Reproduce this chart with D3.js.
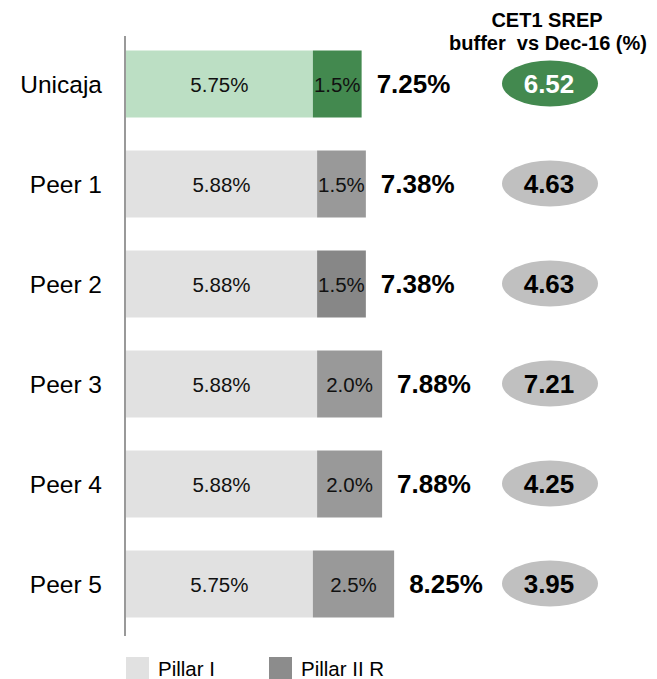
<!DOCTYPE html>
<html>
<head>
<meta charset="utf-8">
<script src="https://cdn.jsdelivr.net/npm/d3@7"></script>
<style>
  html, body { margin: 0; padding: 0; background: #fff; }
  svg { display: block; font-family: "Liberation Sans", Arial, sans-serif; }
</style>
</head>
<body>
<div id="chart"></div>
<script>
/* CET1 SREP requirement: Pillar I + Pillar II R, with buffer ellipses */

const CATS    = ["Unicaja", "Peer 1", "Peer 2", "Peer 3", "Peer 4", "Peer 5"];
const PILLAR1 = [5.75, 5.88, 5.88, 5.88, 5.88, 5.75];
const PILLAR2 = [1.5, 1.5, 1.5, 2.0, 2.0, 2.5];
const P1_LBL  = ["5.75%", "5.88%", "5.88%", "5.88%", "5.88%", "5.75%"];
const P2_LBL  = ["1.5%", "1.5%", "1.5%", "2.0%", "2.0%", "2.5%"];
const TOTAL   = ["7.25%", "7.38%", "7.38%", "7.88%", "7.88%", "8.25%"];
const BUFFER  = ["6.52", "4.63", "4.63", "7.21", "4.25", "3.95"];
const LEGEND  = ["Pillar I", "Pillar II R"];

const W = 657, H = 679;
const X0 = 126;

const svg = d3.select("#chart").append("svg")
  .attr("width", W).attr("height", H);

const x = d3.scaleLinear().domain([0, 8.25]).range([X0, X0 + 8.25 * 32.5]);
const y = d3.scaleBand().domain(CATS).range([34, 634])
  .paddingInner(0.33).paddingOuter(0.165);

const rows = CATS.map((c, i) => ({
  cat: c, p1: PILLAR1[i], p2: PILLAR2[i],
  l1: P1_LBL[i], l2: P2_LBL[i], tot: TOTAL[i], buf: BUFFER[i], i
}));

// colours: Unicaja in green, peers grey (Peer 2 slightly darker)
const c1 = d => d.i === 0 ? "#bcdfc4" : "#e1e1e1";
const c2 = d => d.i === 0 ? "#43894f" : (d.i === 2 ? "#878787" : "#999999");

// header
const head = svg.append("g").attr("font-weight", "bold").attr("font-size", 20)
  .attr("text-anchor", "middle").attr("fill", "#000");
head.append("text").attr("x", 547).attr("y", 27).text("CET1 SREP");
head.append("text").attr("x", 548).attr("y", 50).attr("xml:space", "preserve")
  .text("buffer  vs Dec-16 (%)");

const g = svg.selectAll("g.row").data(rows).join("g").attr("class", "row");
const cy = d => y(d.cat) + y.bandwidth() / 2;

g.append("rect")
  .attr("x", x(0)).attr("y", d => y(d.cat))
  .attr("width", d => x(d.p1) - x(0)).attr("height", y.bandwidth())
  .attr("fill", c1);
g.append("rect")
  .attr("x", d => x(d.p1)).attr("y", d => y(d.cat))
  .attr("width", d => x(d.p1 + d.p2) - x(d.p1)).attr("height", y.bandwidth())
  .attr("fill", c2);

g.append("text")
  .attr("x", d => (x(0) + x(d.p1)) / 2).attr("y", d => cy(d) + 8)
  .attr("text-anchor", "middle").attr("font-size", 20.5).attr("fill", "#111")
  .text(d => d.l1);
g.append("text")
  .attr("x", d => (x(d.p1) + x(d.p1 + d.p2)) / 2).attr("y", d => cy(d) + 8)
  .attr("text-anchor", "middle").attr("font-size", 20.5).attr("fill", "#111")
  .text(d => d.l2);

g.append("text")
  .attr("x", d => x(d.p1 + d.p2) + 15).attr("y", d => cy(d) + 9)
  .attr("font-size", 26).attr("font-weight", "bold").attr("fill", "#000")
  .text(d => d.tot);

g.append("text")
  .attr("x", 102).attr("y", d => cy(d) + 9)
  .attr("text-anchor", "end").attr("font-size", 24.5).attr("fill", "#000")
  .text(d => d.cat);

g.append("ellipse")
  .attr("cx", 550).attr("cy", d => cy(d) - 0.5)
  .attr("rx", 48).attr("ry", 23)
  .attr("fill", d => d.i === 0 ? "#43894f" : "#c0c0c0");
g.append("text")
  .attr("x", 549).attr("y", d => cy(d) + 9)
  .attr("text-anchor", "middle").attr("font-size", 26).attr("font-weight", "bold")
  .attr("fill", d => d.i === 0 ? "#fff" : "#000")
  .text(d => d.buf);

// vertical axis line
svg.append("line")
  .attr("x1", 125).attr("x2", 125).attr("y1", 36).attr("y2", 636)
  .attr("stroke", "#999").attr("stroke-width", 2);

// legend
const LEG_COL = ["#e1e1e1", "#8c8c8c"];
const LEG_X = [126, 269];
const lg = svg.selectAll("g.leg").data(LEGEND).join("g").attr("class", "leg")
  .attr("transform", (d, i) => `translate(${LEG_X[i]},657)`);
lg.append("rect").attr("width", 23).attr("height", 22).attr("fill", (d, i) => LEG_COL[i]);
lg.append("text").attr("x", 32).attr("y", 19).attr("font-size", 20.5).attr("fill", "#000")
  .text(d => d);
</script>
</body>
</html>
